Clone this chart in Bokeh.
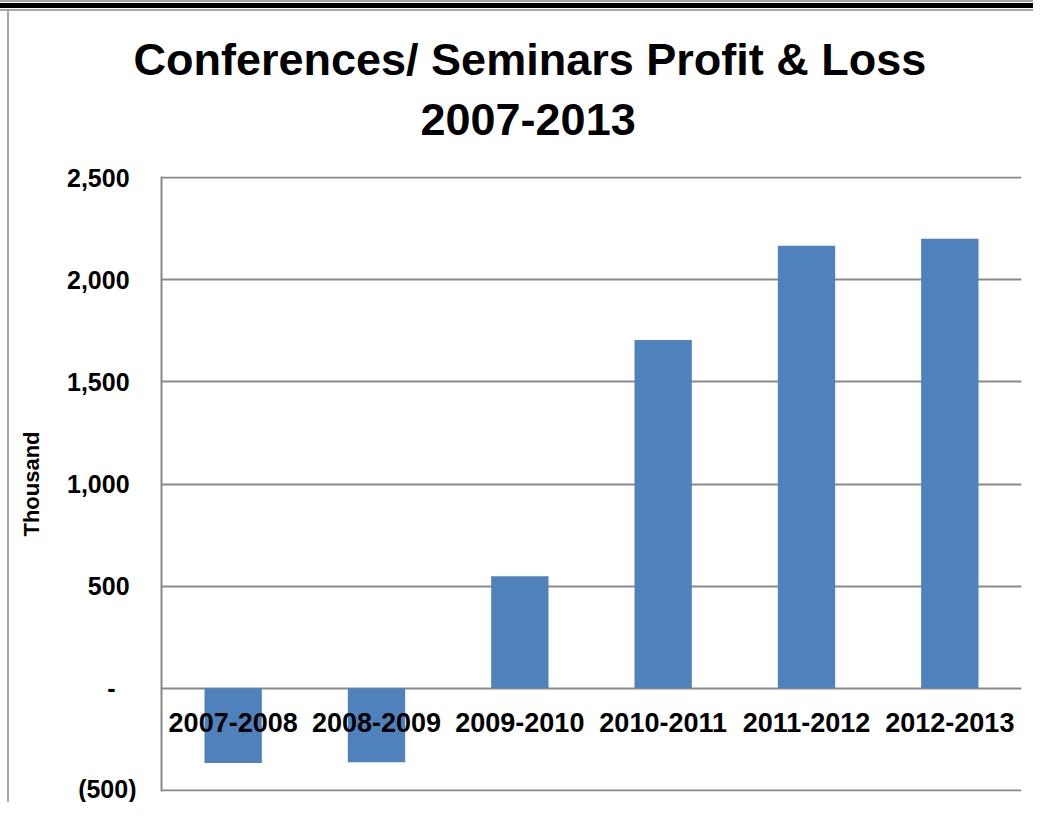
from bokeh.plotting import figure
from bokeh.models import ColumnDataSource, FactorRange, Range1d, FixedTicker, Title
from bokeh.core.properties import value
from bokeh.embed import file_html
from bokeh.resources import INLINE

# ---- data ----
categories = ["2007-2008", "2008-2009", "2009-2010", "2010-2011", "2011-2012", "2012-2013"]
profit_loss = [-365, -362, 549, 1705, 2166, 2200]
tick_values = [-500, 0, 500, 1000, 1500, 2000, 2500]
tick_labels = ["(500)", "-\u00a0\u00a0\u00a0", "500\u00a0", "1,000\u00a0", "1,500\u00a0", "2,000\u00a0", "2,500\u00a0"]
title_line1 = "Conferences/ Seminars Profit & Loss"
title_line2 = "2007-2013"
y_label = "Thousand"

FONT = "Liberation Sans"
GRID = "#898989"
BAR = "#4F81BD"

src = ColumnDataSource(dict(cat=categories, val=profit_loss, base=[0] * len(categories)))

p = figure(x_range=FactorRange(factors=categories, range_padding=0),
           y_range=Range1d(-505, 2505), title=None,
           width=1033, height=802, output_backend="svg", toolbar_location=None,
           min_border_left=161, min_border_right=12, min_border_top=176, min_border_bottom=11)

p.outline_line_color = None
p.background_fill_color = "white"
p.border_fill_alpha = 0
p.styles = {"box-shadow": ("inset 0 2px 0 0 #A6A6A6, inset 0 3px 0 0 #FFFFFF, "
                           "inset 0 8px 0 0 #000000, inset 0 9px 0 0 #FFFFFF, "
                           "inset 0 11px 0 0 #A6A6A6, inset 7px 0 0 0 #FFFFFF, "
                           "inset 9px 0 0 0 #A6A6A6")}

p.vbar(x="cat", top="val", width=0.4, source=src, fill_color=BAR, line_color=None)

# category labels drawn just below the zero line, over the bars
p.text(x="cat", y="base", text="cat", source=src, y_offset=34,
       text_align="center", text_baseline="middle",
       text_font=value(FONT), text_font_style="bold", text_font_size="27px", text_color="black")

p.xaxis.visible = False
p.xgrid.visible = False

ax = p.yaxis[0]
ax.ticker = FixedTicker(ticks=tick_values)
ax.major_label_overrides = {v: t for v, t in zip(tick_values, tick_labels)}
ax.axis_line_color = GRID
ax.axis_line_width = 2
ax.major_tick_line_color = None
ax.minor_tick_line_color = None
ax.major_tick_out = 0
ax.major_tick_in = 0
ax.major_label_standoff = 25
ax.major_label_text_font = FONT
ax.major_label_text_font_style = "bold"
ax.major_label_text_font_size = "25px"
ax.major_label_text_color = "black"
ax.axis_label = y_label
ax.axis_label_standoff = 20
ax.axis_label_text_font = FONT
ax.axis_label_text_font_style = "bold"
ax.axis_label_text_font_size = "22px"
ax.axis_label_text_color = "black"

g = p.ygrid[0]
g.ticker = FixedTicker(ticks=tick_values)
g.grid_line_color = GRID
g.grid_line_width = 2

# titles (first added sits nearest the plot)
p.add_layout(Title(text=title_line2, align="left", offset=259, standoff=83,
                   text_font=FONT, text_font_style="bold", text_font_size="45px",
                   text_color="black"), "above")
p.add_layout(Title(text=title_line1, align="left", offset=-28, standoff=-48,
                   text_font=FONT, text_font_style="bold", text_font_size="45px",
                   text_color="black"), "above")

open("out.html", "w").write(file_html(p, INLINE))
